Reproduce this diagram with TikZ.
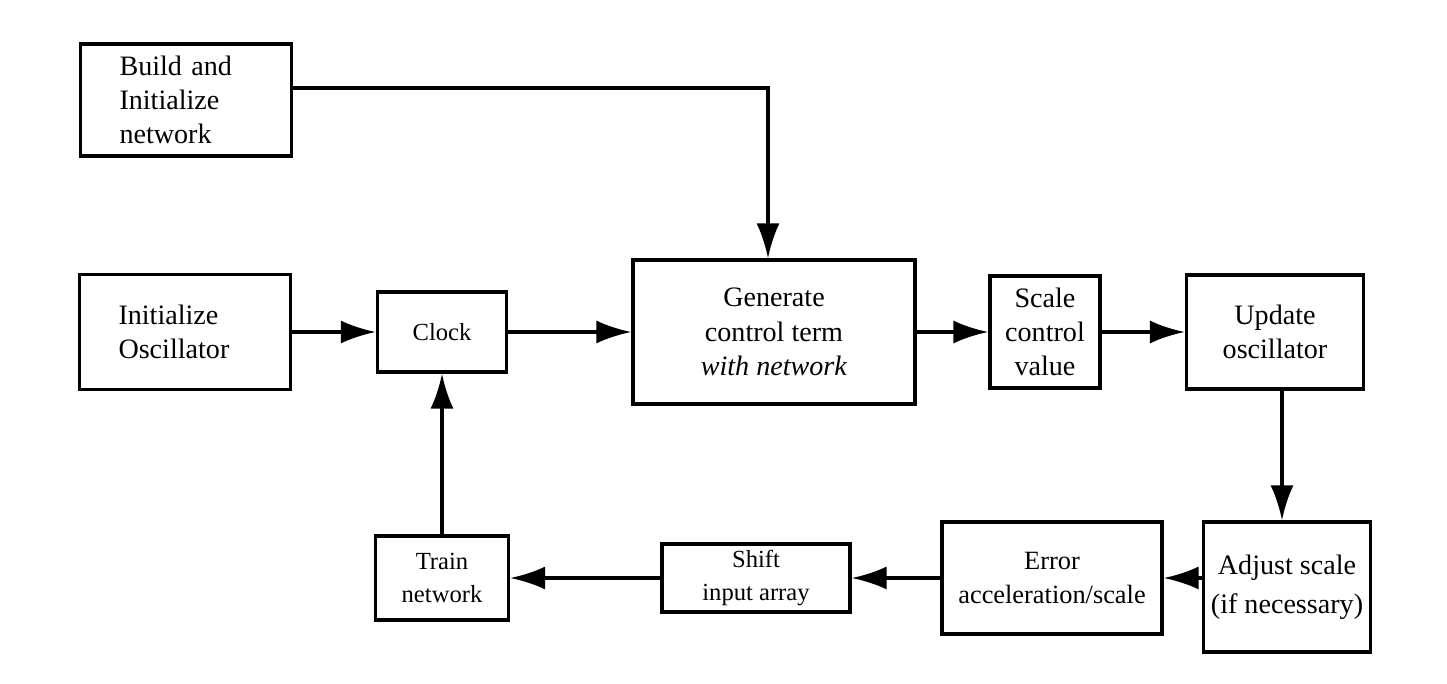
\documentclass[tikz,border=0pt]{standalone}
\usepackage{fontspec}
\setmainfont{Liberation Serif}
\usetikzlibrary{arrows.meta}

\begin{document}
\begin{tikzpicture}[
  block/.style={draw, rectangle, line width=1.8pt, align=center, inner sep=0pt,
                font=\fontsize{16}{19.5}\selectfont},
  lblock/.style={block, align=left, text width=2.66cm, inner xsep=0.78cm},
  small/.style={font=\fontsize{14}{19}\selectfont},
  flow/.style={->, line width=2pt, >={Latex[length=7mm,width=4.6mm]}}]
\useasboundingbox (0,0) rectangle (28.94,13.68);
\def \top {7.04}
\def \bot {2.12}

\node[lblock, minimum height=2.24cm] at (3.72,11.68) (build) {Build and\\Initialize\\network};
\node[lblock, minimum height=2.3cm] at (3.70,\top) (init) {Initialize\\Oscillator};
\node[block, small, minimum width=2.58cm, minimum height=1.6cm] at (8.84,\top) (clock) {Clock};
\node[block, minimum width=5.64cm, minimum height=2.88cm] at (15.48,\top) (generate) {Generate\\control term\\\textit{with network}};
\node[block, minimum width=2.2cm, minimum height=2.24cm] at (20.9,\top) (scale) {Scale\\control\\value};
\node[block, minimum width=3.54cm, minimum height=2.28cm] at (25.5,\top) (update) {Update\\oscillator};

\node[block, font=\fontsize{16}{22}\selectfont, minimum width=3.34cm, minimum height=2.6cm] at (25.74,1.94) (adjust) {Adjust scale\\(if necessary)};
\node[block, small, font=\fontsize{15}{19}\selectfont, minimum width=4.4cm, minimum height=2.24cm] at (21.04,\bot) (error) {Error\\acceleration/scale};
\node[block, small, minimum width=3.76cm, minimum height=1.36cm] at (15.12,\bot) (shift) {Shift\\input array};
\node[block, small, minimum width=2.66cm, minimum height=1.68cm] at (8.84,\bot) (train) {Train\\network};

\draw[flow] ([yshift=0.24cm]build.east) -| ([xshift=-0.12cm]generate.north);
\path[flow] (init) edge (clock);
\path[flow] (clock) edge (generate);
\path[flow] (generate) edge (scale);
\path[flow] (scale) edge (update);
\draw[flow] ([xshift=0.14cm]update.south) -- ([xshift=0.14cm]update.south |- adjust.north);
\draw[flow] (adjust.west |- error) -- (error);
\path[flow] (error) edge (shift);
\path[flow] (shift) edge (train);
\path[flow] (train) edge (clock);

\end{tikzpicture}
\end{document}
